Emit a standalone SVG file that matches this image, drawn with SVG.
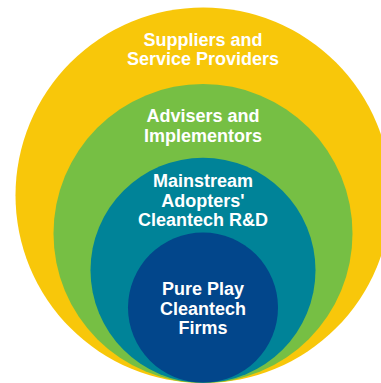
<svg xmlns="http://www.w3.org/2000/svg" width="381" height="383" viewBox="0 0 381 383">
<style>
.t{font-family:"Liberation Sans",Arial,sans-serif;font-weight:bold;font-size:18px;fill:#fff;text-anchor:middle}
</style>
<rect width="381" height="383" fill="#fff"/>
<g id="suppliers">
<circle cx="203.3" cy="195.3" r="187.8" fill="#F8C70A"/>
<text class="t" x="203" y="45.7">Suppliers and</text>
<text class="t" x="203" y="64.5">Service Providers</text>
</g>
<g id="advisers">
<circle cx="203" cy="233.5" r="149.5" fill="#76BF44"/>
<text class="t" x="203" y="121.7">Advisers and</text>
<text class="t" x="203" y="141.7">Implementors</text>
</g>
<g id="mainstream">
<circle cx="203" cy="270.3" r="112.5" fill="#008398"/>
<text class="t" x="203" y="187.3">Mainstream</text>
<text class="t" x="203" y="207.3">Adopters'</text>
<text class="t" x="203" y="225.5">Cleantech R&amp;D</text>
</g>
<g id="pureplay">
<circle cx="203" cy="307.6" r="75" fill="#02468B"/>
<text class="t" x="203" y="295.3">Pure Play</text>
<text class="t" x="203" y="315.3">Cleantech</text>
<text class="t" x="203" y="333.7">Firms</text>
</g>
<g id="connectors"/>
</svg>
